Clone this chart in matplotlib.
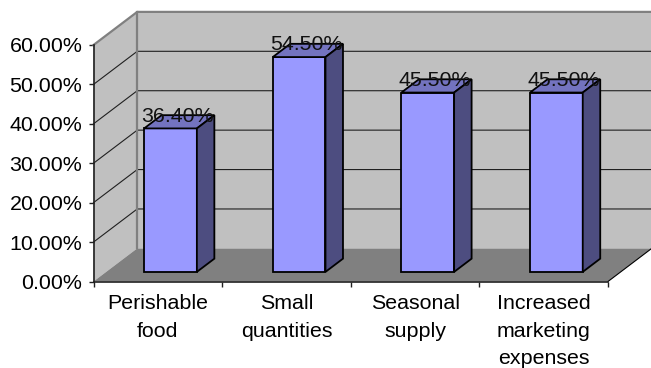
import matplotlib.pyplot as plt
from matplotlib.patches import Polygon

categories = ['Perishable\nfood', 'Small\nquantities', 'Seasonal\nsupply',
              'Increased\nmarketing\nexpenses']
shares = [36.4, 54.5, 45.5, 45.5]
share_labels = ['36.40%', '54.50%', '45.50%', '45.50%']
y_ticks = [0, 10, 20, 30, 40, 50, 60]
y_tick_labels = ['0.00%', '10.00%', '20.00%', '30.00%', '40.00%', '50.00%',
                 '60.00%']

# 3d look: how far the back wall sits from the front plane, in data units
DEPTH_X = 0.34
DEPTH_Y = 8.4
BAR_WIDTH = 0.41
BAR_FRONT = 0.29
BAR_BACK = 0.69

FONT_SIZE = 15.4
WIDTH, HEIGHT = 651, 368


def project(x, y, depth=0.0):
    """Shift a point on the front plane back towards the rear wall."""
    return x + depth * DEPTH_X, y + depth * DEPTH_Y


def _box(ax, left, right, top):
    front_l, front_r = left, right
    faces = [
        # front, top, side
        ([(front_l, 0, BAR_FRONT), (front_r, 0, BAR_FRONT),
          (front_r, top, BAR_FRONT), (front_l, top, BAR_FRONT)], '#9999FF'),
        ([(front_l, top, BAR_FRONT), (front_r, top, BAR_FRONT),
          (front_r, top, BAR_BACK), (front_l, top, BAR_BACK)], '#7373BF'),
        ([(front_r, 0, BAR_FRONT), (front_r, 0, BAR_BACK),
          (front_r, top, BAR_BACK), (front_r, top, BAR_FRONT)], '#4D4D80'),
    ]
    for corners, color in faces:
        ax.add_patch(Polygon([project(*c) for c in corners], closed=True,
                             facecolor=color, edgecolor='black',
                             linewidth=1.3, joinstyle='miter',
                             clip_on=False, zorder=5))


def main():
    plt.rcParams['font.family'] = ['Liberation Sans', 'DejaVu Sans']
    fig = plt.figure(figsize=(WIDTH / 100, HEIGHT / 100), dpi=100)
    ax = fig.add_axes([93.5 / WIDTH, 1 - 281.5 / HEIGHT,
                       514.5 / WIDTH, 236.5 / HEIGHT])
    ax.set_xlim(0, len(categories))
    ax.set_ylim(y_ticks[0], y_ticks[-1])
    ax.patch.set_visible(False)

    n = len(categories)
    top = y_ticks[-1]

    # walls and floor
    ax.add_patch(Polygon([project(0, 0), project(0, 0, 1), project(0, top, 1),
                          project(0, top)], closed=True, facecolor='#C0C0C0',
                         edgecolor='none', clip_on=False, zorder=1))
    ax.add_patch(Polygon([project(0, 0, 1), project(n, 0, 1),
                          project(n, top, 1), project(0, top, 1)], closed=True,
                         facecolor='#C0C0C0', edgecolor='none', clip_on=False,
                         zorder=1))
    ax.add_patch(Polygon([project(0, 0), project(n, 0), project(n, 0, 1),
                          project(0, 0, 1)], closed=True, facecolor='#808080',
                         edgecolor='none', clip_on=False, zorder=3))

    # gridlines run along the side wall and across the back
    for tick in y_ticks[1:-1]:
        pts = [project(0, tick), project(0, tick, 1), project(n, tick, 1)]
        ax.plot(*zip(*pts), color='#202020', lw=0.8, clip_on=False, zorder=2)

    outline = [project(0, top), project(0, top, 1), project(n, top, 1)]
    ax.plot(*zip(*outline), color='#808080', lw=1.6, clip_on=False, zorder=2)
    ax.plot(*zip(project(0, 0, 1), project(0, top, 1)), color='#808080',
            lw=1.6, clip_on=False, zorder=2)
    ax.plot(*zip(project(n, 0), project(n, 0, 1)), color='black', lw=0.8,
            clip_on=False, zorder=4)

    for i, (share, label) in enumerate(zip(shares, share_labels)):
        left = i + 0.5 - BAR_WIDTH / 2
        _box(ax, left, left + BAR_WIDTH, share)
        x, y = project(i + 0.5, share, (BAR_FRONT + BAR_BACK) / 2)
        ax.text(x - 0.012, y, label, ha='center', va='baseline',
                fontsize=FONT_SIZE, color='#111111', zorder=6)

    for side in ('top', 'right'):
        ax.spines[side].set_visible(False)
    for side in ('left', 'bottom'):
        ax.spines[side].set_linewidth(1.2)
        ax.spines[side].set_color('#202020')
        ax.spines[side].set_zorder(4)

    ax.set_yticks(y_ticks)
    ax.set_yticklabels(y_tick_labels, fontsize=FONT_SIZE)
    ax.tick_params(axis='y', length=3.5, width=1.0, pad=4.5, color='#202020')

    ax.set_xticks(range(n + 1))
    ax.set_xticklabels([])
    ax.set_xticks([i + 0.5 for i in range(n)], minor=True)
    ax.set_xticklabels(categories, minor=True, fontsize=FONT_SIZE,
                       linespacing=1.58)
    ax.tick_params(axis='x', which='major', length=3.5, width=1.0,
                   color='#202020')
    ax.tick_params(axis='x', which='minor', length=0, pad=9)

    fig.savefig('out.png', dpi=100)


if __name__ == '__main__':
    main()
